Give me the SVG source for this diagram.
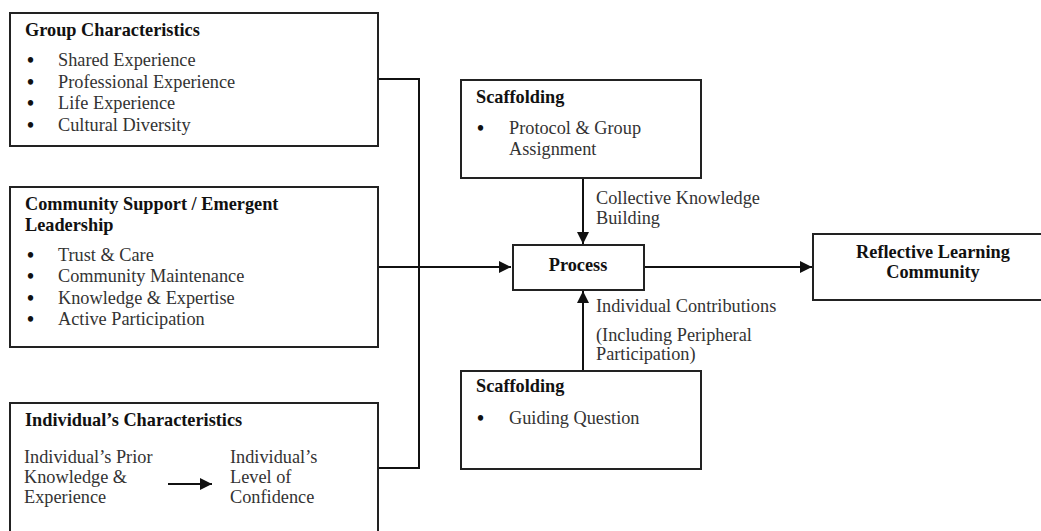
<svg xmlns="http://www.w3.org/2000/svg" width="1041" height="531" viewBox="0 0 1041 531">
<style>
.box{fill:#fff;stroke:#222;stroke-width:2}
.ln{fill:none;stroke:#111;stroke-width:2}
text{font-family:"Liberation Serif","Times New Roman",serif;font-size:18.3px;fill:#333}
.b{font-weight:bold;fill:#111}
.bul{font-size:20px;font-weight:bold;fill:#111}
</style>
<defs>
<marker id="ah" viewBox="0 0 10 10" refX="10" refY="5" markerWidth="12" markerHeight="12" markerUnits="userSpaceOnUse" orient="auto">
<path d="M0,0 L10,5 L0,10 z" fill="#111"/>
</marker>
</defs>
<g id="connectors">
<polyline class="ln" points="378,79 419,79 419,468 378,468"/>
<line class="ln" x1="378" y1="267" x2="511" y2="267" marker-end="url(#ah)"/>
<line class="ln" x1="644" y1="267" x2="812" y2="267" marker-end="url(#ah)"/>
<line class="ln" x1="583" y1="178" x2="583" y2="244" marker-end="url(#ah)"/>
<line class="ln" x1="583" y1="371" x2="583" y2="291" marker-end="url(#ah)"/>
<text x="596" y="204">Collective Knowledge</text>
<text x="596" y="224">Building</text>
<text x="596" y="312">Individual Contributions</text>
<text x="596" y="341">(Including Peripheral</text>
<text x="596" y="360">Participation)</text>
</g>
<g id="group-characteristics">
<rect class="box" x="10" y="13" width="368" height="133"/>
<text class="b" x="25" y="36">Group Characteristics</text>
<text class="bul" x="27" y="67">•</text><text x="58" y="66">Shared Experience</text>
<text class="bul" x="27" y="89">•</text><text x="58" y="88">Professional Experience</text>
<text class="bul" x="27" y="110">•</text><text x="58" y="109">Life Experience</text>
<text class="bul" x="27" y="132">•</text><text x="58" y="131">Cultural Diversity</text>
</g>
<g id="community-support">
<rect class="box" x="10" y="187" width="368" height="160"/>
<text class="b" x="25" y="210">Community Support / Emergent</text>
<text class="b" x="25" y="231">Leadership</text>
<text class="bul" x="27" y="262">•</text><text x="58" y="261">Trust &amp; Care</text>
<text class="bul" x="27" y="283">•</text><text x="58" y="282">Community Maintenance</text>
<text class="bul" x="27" y="305">•</text><text x="58" y="304">Knowledge &amp; Expertise</text>
<text class="bul" x="27" y="326">•</text><text x="58" y="325">Active Participation</text>
</g>
<g id="individual-characteristics">
<rect class="box" x="10" y="403" width="368" height="140"/>
<text class="b" x="25" y="426">Individual’s Characteristics</text>
<text x="24" y="463">Individual’s Prior</text>
<text x="24" y="483">Knowledge &amp;</text>
<text x="24" y="503">Experience</text>
<line class="ln" x1="168" y1="484" x2="212" y2="484" stroke-width="2.5" marker-end="url(#ah)"/>
<text x="230" y="463">Individual’s</text>
<text x="230" y="483">Level of</text>
<text x="230" y="503">Confidence</text>
</g>
<g id="scaffolding-top">
<rect class="box" x="461" y="80" width="240" height="98"/>
<text class="b" x="476" y="103">Scaffolding</text>
<text class="bul" x="477" y="135">•</text><text x="509" y="134">Protocol &amp; Group</text>
<text x="509" y="155">Assignment</text>
</g>
<g id="process">
<rect class="box" x="513" y="245" width="131" height="45"/>
<text class="b" x="578" y="271" text-anchor="middle">Process</text>
</g>
<g id="scaffolding-bottom">
<rect class="box" x="461" y="371" width="240" height="98"/>
<text class="b" x="476" y="392">Scaffolding</text>
<text class="bul" x="477" y="425">•</text><text x="509" y="424">Guiding Question</text>
</g>
<g id="reflective-learning-community">
<rect class="box" x="813" y="234" width="240" height="66"/>
<text class="b" x="933" y="258" text-anchor="middle">Reflective Learning</text>
<text class="b" x="933" y="278" text-anchor="middle">Community</text>
</g>
</svg>
